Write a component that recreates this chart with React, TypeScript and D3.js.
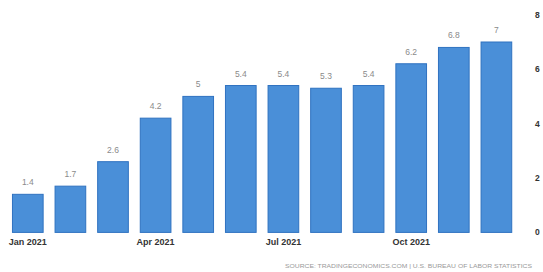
import React from "react";
import * as d3 from "d3";

const categories = ["Jan 2021","Feb 2021","Mar 2021","Apr 2021","May 2021","Jun 2021","Jul 2021","Aug 2021","Sep 2021","Oct 2021","Nov 2021","Dec 2021"];
const values = [1.4, 1.7, 2.6, 4.2, 5, 5.4, 5.4, 5.3, 5.4, 6.2, 6.8, 7];
const valueLabels = ["1.4","1.7","2.6","4.2","5","5.4","5.4","5.3","5.4","6.2","6.8","7"];
const xTickLabels = ["Jan 2021","Apr 2021","Jul 2021","Oct 2021"];
const yTicks = [0, 2, 4, 6, 8];
const sourceText = "SOURCE: TRADINGECONOMICS.COM | U.S. BUREAU OF LABOR STATISTICS";

const W = 543, H = 272;

export default function App() {
  const x = d3.scaleBand<string>().domain(categories).range([6.5, 517.7]).paddingInner(0.28).paddingOuter(0.14);
  const y = d3.scaleLinear().domain([0, 8]).range([232.4, 14.8]);
  return (
    <svg width={W} height={H} style={{ position: "absolute", left: 0, top: 0, background: "#fff" }}>
      {categories.map((c, i) => (
        <g key={c}>
          <rect x={x(c)!} y={y(values[i])} width={x.bandwidth()} height={y(0) - y(values[i])}
            fill="#4a8fd8" stroke="#2f72c0" strokeWidth={1} />
          <text x={x(c)! + x.bandwidth() / 2} y={y(values[i]) - 9} textAnchor="middle"
            fontFamily="Liberation Sans, Arial, sans-serif" fontSize={8.5} fill="#8a8a8a">{valueLabels[i]}</text>
        </g>
      ))}
      {xTickLabels.map((t) => (
        <text key={t} x={x(t)! + x.bandwidth() / 2} y={245} textAnchor="middle"
          fontFamily="Liberation Sans, Arial, sans-serif" fontSize={9} fontWeight="bold" fill="#333">{t}</text>
      ))}
      {yTicks.map((t) => (
        <text key={t} x={535} y={y(t) + 3} textAnchor="start"
          fontFamily="Liberation Sans, Arial, sans-serif" fontSize={8.5} fontWeight="bold" fill="#333">{t}</text>
      ))}
      <text x={285} y={268} textLength={247} lengthAdjust="spacingAndGlyphs"
        fontFamily="Liberation Sans, Arial, sans-serif" fontSize={5.5} fill="#999">{sourceText}</text>
    </svg>
  );
}
